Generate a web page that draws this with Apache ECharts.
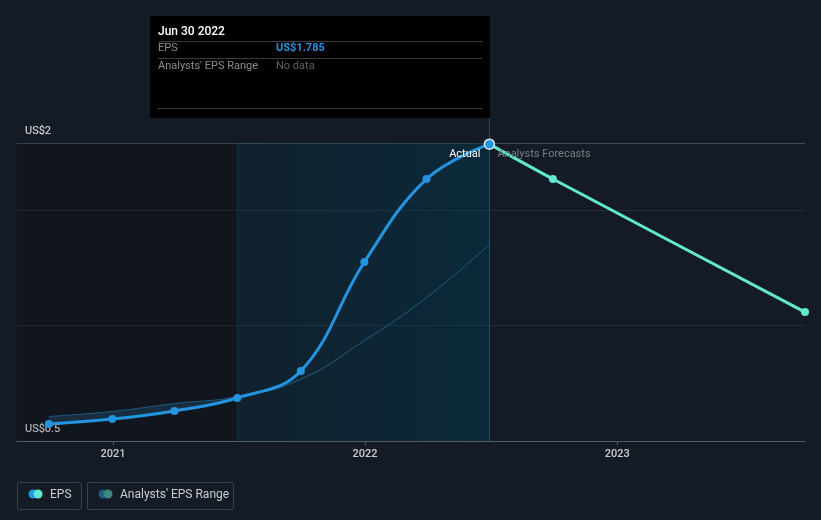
<!DOCTYPE html>
<html>
<head>
<meta charset="utf-8">
<script src="https://cdn.jsdelivr.net/npm/echarts@6/dist/echarts.min.js"></script>
<style>
  html, body { margin: 0; padding: 0; background: #151b24; }
  #chart { width: 821px; height: 520px; }
</style>
</head>
<body>
<div id="chart"></div>
<script>
// EPS, actual (quarter ends)
const epsDates = ['2020-09-30', '2020-12-31', '2021-03-31', '2021-06-30', '2021-09-30', '2021-12-31', '2022-03-31', '2022-06-30']
const epsValues = [0.574, 0.595, 0.630, 0.686, 0.803, 1.275, 1.634, 1.785]
// analyst forecasts
const forecastDates = ['2022-06-30', '2022-09-30', '2023-09-30']
const forecastValues = [1.785, 1.634, 1.058]
// analysts' EPS range (past estimates)
const rangeDates = ['2020-09-30', '2020-12-31', '2021-03-31', '2021-06-30', '2021-09-30', '2021-12-31', '2022-03-31', '2022-06-30']
const rangeLow = [0.572, 0.592, 0.626, 0.684, 0.764, 0.932, 1.118, 1.348]
const rangeHigh = [0.606, 0.628, 0.662, 0.692, 0.768, 0.935, 1.121, 1.351]
const axisStart = '2020-08-15'
const axisEnd = '2023-09-30'
const lastActual = '2022-06-30'
const pastEnd = '2021-06-30'

const t = s => +new Date(s + 'T00:00:00')
const font = 'Roboto, "Noto Sans", sans-serif'
const YEAR = 365 * 24 * 3600 * 1000

const chart = echarts.init(document.getElementById('chart'))

chart.setOption({
    backgroundColor: '#151b24',
    animation: false,
    grid: {left: 17, right: 16, top: 143, bottom: 79},
    xAxis: {
        type: 'time',
        min: t(axisStart),
        max: t(axisEnd),
        minInterval: YEAR,
        axisLine: {lineStyle: {color: '#585c64', width: 1}},
        axisTick: {show: true, length: 4, lineStyle: {color: '#585c64'}},
        axisLabel: {
            formatter: '{yyyy}',
            hideOverlap: true,
            color: '#c9cdd3', fontSize: 11, fontWeight: 500, fontFamily: font, margin: 8
        },
        splitLine: {show: false}
    },
    yAxis: {
        type: 'value',
        min: 0.5,
        max: 1.79,
        interval: 0.5,
        axisLine: {show: false},
        axisTick: {show: false},
        splitLine: {lineStyle: {color: ['#585c64', '#292f39', '#292f39', '#464b54'], width: 1}},
        axisLabel: {
            inside: true,
            margin: 8,
            verticalAlign: 'bottom',
            padding: [0, 0, 6, 0],
            color: '#e6e8eb', fontSize: 11, fontFamily: font,
            formatter: v => v === 0.5 ? 'US$0.5' : (v > 1.7 ? 'US$2' : '')
        }
    },
    series: [
        {
            name: 'rangeLow', type: 'line', stack: 'range', smooth: 0.45, symbol: 'none', silent: true,
            lineStyle: {opacity: 0},
            data: rangeDates.map((d, i) => [t(d), rangeLow[i]]),
            markArea: {
                silent: true,
                data: [
                    [{xAxis: t(axisStart), itemStyle: {color: 'rgba(0,0,0,0.15)'}}, {xAxis: t(pastEnd)}],
                    [{
                        xAxis: t(pastEnd),
                        itemStyle: {
                            color: {
                                type: 'linear', x: 0, y: 0, x2: 1, y2: 0,
                                colorStops: [{offset: 0, color: 'rgba(0,55,80,0.2)'}, {offset: 1, color: 'rgba(0,55,80,0.5)'}]
                            }
                        }
                    }, {xAxis: t(lastActual)}]
                ]
            }
        },
        {
            name: "Analysts' EPS Range", type: 'line', stack: 'range', smooth: 0.45, symbol: 'none', silent: true,
            lineStyle: {color: '#1f5b82', width: 1},
            areaStyle: {color: 'rgba(40,95,135,0.45)'},
            data: rangeDates.map((d, i) => [t(d), +(rangeHigh[i] - rangeLow[i]).toFixed(3)])
        },
        {
            name: 'EPS', type: 'line', smooth: 0.4, symbol: 'circle', symbolSize: 8,
            lineStyle: {color: '#2394df', width: 3},
            itemStyle: {color: '#2394df'},
            data: epsDates.map((d, i) => {
                const p = {value: [t(d), epsValues[i]]}
                if (d === lastActual) {
                    p.itemStyle = {color: '#2394df', borderColor: '#dbe9f5', borderWidth: 1.5}
                    p.symbolSize = 10
                }
                return p
            }),
            z: 5
        },
        {
            name: 'Forecast', type: 'line', smooth: 0.3, symbol: 'circle', symbolSize: 8,
            lineStyle: {color: '#5fe9d1', width: 3},
            itemStyle: {color: '#5fe9d1'},
            data: forecastDates.map((d, i) => {
                const p = {value: [t(d), forecastValues[i]]}
                if (i === 0) p.symbol = 'none'
                return p
            }),
            z: 4
        }
    ]
})

// decorations placed from the axis scale
const xCut = chart.convertToPixel({xAxisIndex: 0}, t(lastActual))
const xPast = chart.convertToPixel({xAxisIndex: 0}, t(pastEnd))
const legendText = {fill: '#c9cdd3', fontSize: 12, fontFamily: font}

chart.setOption({
    graphic: [
        {type: 'line', shape: {x1: xCut, y1: 118, x2: xCut, y2: 441}, style: {stroke: '#2a4a5a', lineWidth: 1}, z: 1},
        {type: 'line', shape: {x1: xPast, y1: 143, x2: xPast, y2: 441}, style: {stroke: '#16303c', lineWidth: 1}, z: 1},
        // hover box
        {type: 'rect', shape: {x: 150, y: 16, width: 340, height: 102}, style: {fill: '#000'}},
        {type: 'text', x: 158, y: 26, style: {text: 'Jun 30 2022', fill: '#fff', fontSize: 12, fontWeight: 500, fontFamily: font}},
        {type: 'line', shape: {x1: 158, y1: 41.5, x2: 482, y2: 41.5}, style: {stroke: '#3a3a3a', lineWidth: 1}},
        {type: 'text', x: 158, y: 43, style: {text: 'EPS', fill: '#8a8d92', fontSize: 11, fontFamily: font}},
        {type: 'text', x: 276, y: 43, style: {text: 'US$1.785', fill: '#2394df', fontSize: 11, fontWeight: 'bold', fontFamily: font}},
        {type: 'line', shape: {x1: 158, y1: 58.5, x2: 482, y2: 58.5}, style: {stroke: '#3a3a3a', lineWidth: 1}},
        {type: 'text', x: 158, y: 61, style: {text: "Analysts' EPS Range", fill: '#8a8d92', fontSize: 11, fontFamily: font}},
        {type: 'text', x: 276, y: 61, style: {text: 'No data', fill: '#5d6066', fontSize: 11, fontFamily: font}},
        {type: 'line', shape: {x1: 158, y1: 108.5, x2: 482, y2: 108.5}, style: {stroke: '#3a3a3a', lineWidth: 1}},
        // section labels
        {type: 'text', x: xCut - 9, y: 149, style: {text: 'Actual', fill: '#ffffff', fontSize: 11, fontFamily: font, align: 'right'}, z: 10},
        {type: 'text', x: xCut + 8, y: 149, style: {text: 'Analysts Forecasts', fill: '#7b7f86', fontSize: 11, fontFamily: font}, z: 10},
        // legend
        {type: 'rect', shape: {x: 17.5, y: 482.5, width: 64, height: 27, r: 2}, style: {fill: 'none', stroke: '#3e434c', lineWidth: 1}},
        {type: 'circle', shape: {cx: 33, cy: 494, r: 4.5}, style: {fill: '#2394df'}},
        {type: 'circle', shape: {cx: 38, cy: 494, r: 4.5}, style: {fill: '#5fe9d1'}},
        {type: 'text', x: 50, y: 489, style: {text: 'EPS', ...legendText}},
        {type: 'rect', shape: {x: 87.5, y: 482.5, width: 146, height: 27, r: 2}, style: {fill: 'none', stroke: '#3e434c', lineWidth: 1}},
        {type: 'circle', shape: {cx: 103, cy: 494, r: 4.5}, style: {fill: '#1f5b82'}},
        {type: 'circle', shape: {cx: 108, cy: 494, r: 4.5}, style: {fill: '#3b8a80'}},
        {type: 'text', x: 120, y: 489, style: {text: "Analysts' EPS Range", ...legendText}}
    ]
})
</script>
</body>
</html>
